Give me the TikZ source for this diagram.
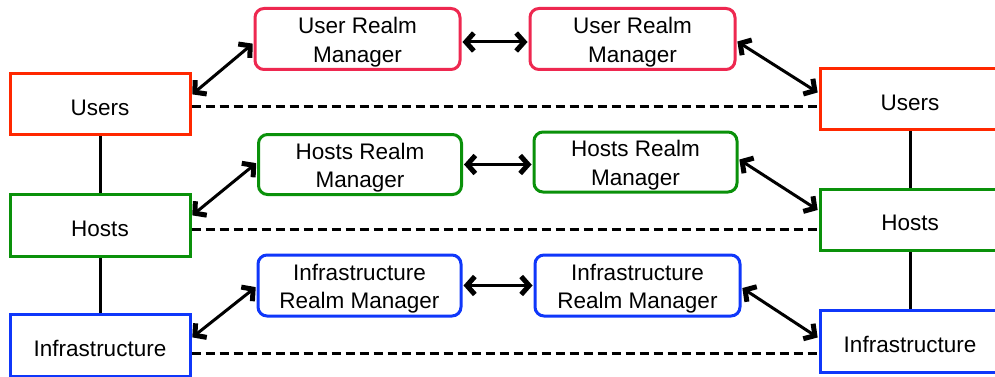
\documentclass[tikz,border=0pt]{standalone}
\usepackage{fontspec}
\setmainfont{Liberation Sans}
\usetikzlibrary{arrows.meta}
\definecolor{cusr}{RGB}{255,40,0}
\definecolor{cusrm}{RGB}{238,40,80}
\definecolor{chost}{RGB}{10,145,10}
\definecolor{cinfra}{RGB}{15,55,250}
\newcommand\tstrut{\rule{0pt}{22.5pt}}
\begin{document}
\begin{tikzpicture}[x=1pt,y=-1pt,
  every node/.style={font=\fontsize{22.5}{28.5}\selectfont, align=center, inner sep=0pt},
  ent/.style={draw, line width=3pt, minimum width=180pt, minimum height=60pt, fill=white},
  mgr/.style={draw, line width=3pt, rounded corners=9pt, minimum width=203pt, minimum height=60pt, fill=white},
  tip/.style={},
  link/.style={line width=3pt, {Straight Barb[length=8pt,width=18pt,line width=5pt]}-{Straight Barb[length=8pt,width=18pt,line width=5pt]}, shorten <=1pt, shorten >=1pt},
  dashline/.style={line width=3pt, dash pattern=on 9pt off 5pt},
  tree/.style={line width=3pt}]
\useasboundingbox (0,0) rectangle (995,377);
% vertical structure lines (behind boxes)
\draw[tree] (100,104) -- (100,344);
\draw[tree] (910,99) -- (910,341);
% left entities
\node[ent, draw=cusr] (lu) at (100,104) {\tstrut Users};
\node[ent, draw=chost, minimum height=62pt] (lh) at (100,225) {\tstrut Hosts};
\node[ent, draw=cinfra, minimum height=62pt] (li) at (100,345) {\tstrut Infrastructure};
% right entities
\node[ent, draw=cusr, minimum height=61pt] (ru) at (910,99) {\tstrut Users};
\node[ent, draw=chost, minimum height=61pt] (rh) at (910,219.5) {\tstrut Hosts};
\node[ent, draw=cinfra, minimum height=62pt] (ri) at (910,341) {\tstrut Infrastructure};
% managers
\node[mgr, draw=cusrm, minimum width=205pt, minimum height=61pt] (um1) at (357.5,39) {\tstrut User Realm\\Manager};
\node[mgr, draw=cusrm, minimum width=205pt, minimum height=61pt] (um2) at (632.5,39) {\tstrut User Realm\\Manager};
\node[mgr, draw=chost, minimum height=60pt] (hm1) at (360,164.5) {\tstrut Hosts Realm\\Manager};
\node[mgr, draw=chost, minimum height=60pt] (hm2) at (635.5,162) {\tstrut Hosts Realm\\Manager};
\node[mgr, draw=cinfra, minimum height=61pt] (im1) at (359.5,285.5) {\tstrut Infrastructure\\Realm Manager};
\node[mgr, draw=cinfra, minimum width=205pt, minimum height=61pt] (im2) at (637.5,285.5) {\tstrut Infrastructure\\Realm Manager};
% manager to manager
\draw[link] ([yshift=-3pt]um1.east) -- ([yshift=-3pt]um2.west);
\draw[link] (hm1.east) -- (hm1.east -| hm2.west);
\draw[link] (im1.east) -- (im2.west);
% entity to manager
\draw[link] ([yshift=9pt]lu.east) -- ([yshift=-4pt]um1.west);
\draw[link] ([yshift=9pt]lh.east) -- ([yshift=2pt]hm1.west);
\draw[link] ([yshift=7pt]li.east) -- ([yshift=-1pt]im1.west);
\draw[link] ([yshift=-2pt]um2.east) -- ([yshift=6pt]ru.west);
\draw[link] ([yshift=3pt]hm2.east) -- ([yshift=9pt]rh.west);
\draw[link] ([yshift=-2pt]im2.east) -- ([yshift=3pt]ri.west);
% dashed lines
\draw[dashline] ([yshift=-3pt]lu.east) -- ([yshift=-3pt]lu.east -| ru.west);
\draw[dashline] ([yshift=-4.5pt]lh.east) -- ([yshift=-4.5pt]lh.east -| rh.west);
\draw[dashline] ([yshift=-8pt]li.east) -- ([yshift=-8pt]li.east -| ri.west);
\end{tikzpicture}
\end{document}
